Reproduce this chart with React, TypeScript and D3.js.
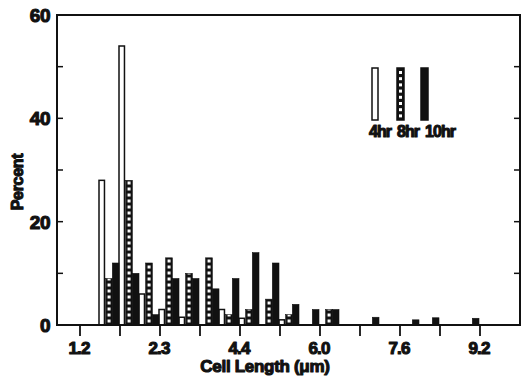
import * as d3 from "d3";
import React, { useEffect, useRef } from "react";

// bin index 0..19 (two bins per x tick)
const bins = d3.range(20);
const hr4 = [0, 28, 54, 6, 3, 1.5, 0, 3, 1.3, 0, 1, 0, 0, 0, 0, 0, 0, 0, 0, 0];
const hr8 = [0, 9, 28, 12, 13, 10, 13, 2, 3, 5, 2, 0, 3, 0, 0, 0, 0, 0, 0, 0];
const hr10 = [0, 12, 10, 2, 9, 9, 7, 9, 14, 12, 4, 3, 3, 0, 1.5, 0, 1, 1.4, 0, 1.3];
const tickBins = [0, 2, 4, 6, 8, 10, 12, 14, 16, 18, 20];
const tickLabels = ["1.2", "", "2.3", "", "4.4", "", "6.0", "", "7.6", "", "9.2"];
const yTicks = [0, 10, 20, 30, 40, 50, 60];
const yLabels = ["0", "", "20", "", "40", "", "60"];
const seriesNames = ["4hr", "8hr", "10hr"];

const FONT = "'Liberation Sans', Arial, sans-serif";

function App() {
  const ref = useRef<SVGSVGElement>(null);

  useEffect(() => {
    const svg = d3.select(ref.current);
    svg.selectAll("*").remove();

    const x = d3.scaleLinear().domain([0, 20]).range([79, 479]);
    const y = d3.scaleLinear().domain([0, 60]).range([325, 15]);
    const bw = (x(1) - x(0)) / 3;
    const left = 57, right = 520, top = y(60), bottom = y(0);

    const heavy = (sel: any, size: number) =>
      sel.attr("font-family", FONT).attr("font-weight", "bold").attr("font-size", size)
        .attr("fill", "#111").attr("stroke", "#111").attr("stroke-width", 1.1)
        .attr("stroke-linejoin", "round");

    const defs = svg.append("defs");
    const pat = defs.append("pattern")
      .attr("id", "dots")
      .attr("patternUnits", "userSpaceOnUse")
      .attr("x", x(0) + bw)
      .attr("y", 0)
      .attr("width", x(1) - x(0))
      .attr("height", 6);
    pat.append("rect").attr("width", x(1) - x(0)).attr("height", 6).attr("fill", "#111");
    pat.append("rect").attr("x", bw / 2 - 1.5).attr("y", 1.5).attr("width", 3).attr("height", 3).attr("fill", "#fff");

    const g = svg.append("g");

    // bars
    const series = [hr4, hr8, hr10];
    series.forEach((vals, s) => {
      g.selectAll(null)
        .data(bins.filter(i => vals[i] > 0))
        .enter().append("rect")
        .attr("x", i => x(i) + s * bw)
        .attr("y", i => y(vals[i]))
        .attr("width", s === 0 ? bw - 1.2 : bw)
        .attr("height", i => bottom - y(vals[i]))
        .attr("fill", s === 0 ? "#fff" : s === 1 ? "url(#dots)" : "#111")
        .attr("stroke", "#111")
        .attr("stroke-width", s === 0 ? 1.5 : 0.6);
    });

    // frame
    g.append("rect")
      .attr("x", left).attr("y", top)
      .attr("width", right - left).attr("height", bottom - top)
      .attr("fill", "none").attr("stroke", "#111").attr("stroke-width", 2);

    // y ticks, both sides, inward
    yTicks.slice(1, -1).forEach(t => {
      g.append("line").attr("x1", left).attr("x2", left + 6).attr("y1", y(t)).attr("y2", y(t))
        .attr("stroke", "#111").attr("stroke-width", 1.5);
      g.append("line").attr("x1", right - 6).attr("x2", right).attr("y1", y(t)).attr("y2", y(t))
        .attr("stroke", "#111").attr("stroke-width", 1.5);
    });
    heavy(g.selectAll(null).data(yTicks).enter().append("text"), 19)
      .attr("x", 50).attr("y", (t: number) => y(t)).attr("dy", "0.36em")
      .attr("text-anchor", "end")
      .attr("letter-spacing", -0.5)
      .text((_: number, i: number) => yLabels[i]);

    // x ticks, outward
    g.selectAll(null).data(tickBins).enter().append("line")
      .attr("x1", t => x(t) + 1).attr("x2", t => x(t) + 1)
      .attr("y1", bottom).attr("y2", bottom + 11)
      .attr("stroke", "#111").attr("stroke-width", 1.8);
    heavy(g.selectAll(null).data(tickBins).enter().append("text"), 17)
      .attr("x", (t: number) => x(t)).attr("y", 354)
      .attr("text-anchor", "middle")
      .attr("letter-spacing", -0.8)
      .text((_: number, i: number) => tickLabels[i]);

    // axis titles
    heavy(svg.append("text"), 17)
      .attr("x", 265).attr("y", 372)
      .attr("text-anchor", "middle")
      .attr("letter-spacing", -0.3)
      .text("Cell Length (μm)");
    heavy(svg.append("text"), 16)
      .attr("transform", "translate(23,182) rotate(-90)")
      .attr("text-anchor", "middle")
      .attr("letter-spacing", -0.3)
      .text("Percent");

    // legend
    const legX = [372, 397, 421];
    const legTextX = [380, 408, 440];
    seriesNames.forEach((name, s) => {
      svg.append("rect")
        .attr("x", legX[s]).attr("y", 68)
        .attr("width", s === 0 ? 6 : 7).attr("height", 52)
        .attr("fill", s === 0 ? "#fff" : "#111")
        .attr("stroke", "#111").attr("stroke-width", 1.5);
      if (s === 1) {
        svg.selectAll(null).data(d3.range(8)).enter().append("rect")
          .attr("x", legX[s] + 2).attr("y", k => 71 + k * 6.2)
          .attr("width", 3).attr("height", 3).attr("fill", "#fff");
      }
      heavy(svg.append("text"), 16)
        .attr("x", legTextX[s]).attr("y", 137)
        .attr("text-anchor", "middle")
        .attr("letter-spacing", -1)
        .text(name);
    });
  }, []);

  return (
    <svg ref={ref} width={527} height={376}
      style={{ position: "absolute", left: 0, top: 0, background: "#fff" }} />
  );
}

export default App;
